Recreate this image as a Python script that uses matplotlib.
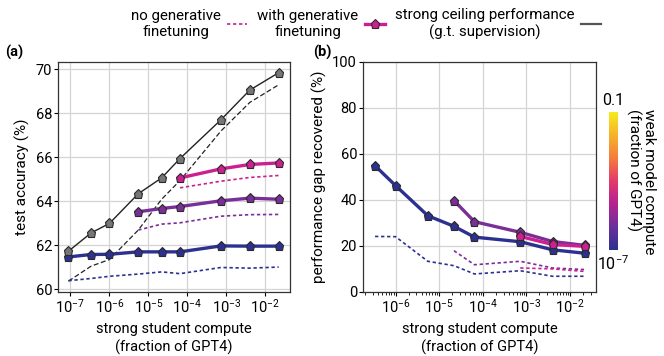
import numpy as np
import matplotlib
matplotlib.use('Agg')
from matplotlib import pyplot as plt
from matplotlib.lines import Line2D
from matplotlib.colors import LinearSegmentedColormap, LogNorm
from matplotlib.cm import ScalarMappable

plt.rcParams['font.family'] = ['Roboto', 'DejaVu Sans']
plt.rcParams['font.size'] = 10.5

# strong student compute (fraction of GPT4), log10
student_log = [-7.05, -6.47, -6.00, -5.26, -4.66, -4.19, -3.14, -2.40, -1.66]
student = [10 ** v for v in student_log]

# (a) test accuracy
ceiling_gen = [61.74, 62.57, 63.0, 64.35, 65.07, 65.95, 67.71, 69.06, 69.85]
ceiling_nogen = [60.38, 61.06, 61.36, 62.7, 64.1, 64.95, 67.2, 68.5, 69.3]

acc_gen_w1 = [61.48, 61.59, 61.60, 61.71, 61.71, 61.71, 61.98, 61.97, 61.97]
acc_nogen_w1 = [60.4, 60.5, 60.6, 60.7, 60.8, 60.72, 61.0, 60.97, 61.02]
acc_gen_w2 = [63.53, 63.68, 63.77, 64.03, 64.15, 64.1]
acc_nogen_w2 = [62.7, 62.97, 63.03, 63.33, 63.4, 63.41]
acc_gen_w3 = [65.07, 65.48, 65.68, 65.75]
acc_nogen_w3 = [64.62, 64.92, 65.09, 65.18]

# (b) performance gap recovered
pgr_gen_w1 = [54.8, 46.2, 33.1, 28.5, 23.8, 21.8, 18.3, 16.8]
pgr_nogen_w1 = [24.1, 24.0, 13.3, 11.4, 7.8, 9.2, 6.8, 6.8]
pgr_gen_w2 = [39.7, 30.5, 25.9, 21.9, 20.2]
pgr_nogen_w2 = [17.9, 11.8, 13.3, 10.4, 9.7]
pgr_gen_w3 = [24.1, 20.6, 19.8]
pgr_nogen_w3 = [10.4, 10.0, 8.9]

blue = '#2c3190'
purple = '#7a2e98'
magenta = '#cc2090'
gray = '#767676'
edge = '#2a2a2a'

fig = plt.figure(figsize=(6.64, 3.56), dpi=100)
ax1 = fig.add_axes([0.0878, 0.18, 0.3489, 0.6467])
ax2 = fig.add_axes([0.5471, 0.18, 0.35, 0.6467])

def solid(ax, x, y, c, lw=2.4):
    ax.plot(x, y, '-', color=c, lw=lw, marker='p', ms=6.5,
            mfc=c, mec=edge, mew=0.8, zorder=4)

def dashed(ax, x, y, c):
    ax.plot(x, y, color=c, lw=1.2, dashes=(2, 1.6), zorder=3)

# panel (a)
ax1.plot(student, ceiling_gen, '-', color='#222222', lw=1.0, marker='p',
         ms=6.5, mfc=gray, mec=edge, mew=0.8, zorder=5)
ax1.plot(student, ceiling_nogen, color='#222222', lw=0.9, dashes=(4, 2), zorder=3)
solid(ax1, student, acc_gen_w1, blue)
dashed(ax1, student, acc_nogen_w1, blue)
solid(ax1, student[3:], acc_gen_w2, purple)
dashed(ax1, student[3:], acc_nogen_w2, purple)
solid(ax1, student[5:], acc_gen_w3, magenta)
dashed(ax1, student[5:], acc_nogen_w3, magenta)

ax1.set_xscale('log')
ax1.set_xlim(10 ** -7.31, 10 ** -1.37)
ax1.set_ylim(59.89, 70.35)
ax1.set_yticks([60, 62, 64, 66, 68, 70])
ax1.set_xticks([1e-7, 1e-6, 1e-5, 1e-4, 1e-3, 1e-2])
ax1.set_ylabel('test accuracy (%)', fontsize=11)

# panel (b)
solid(ax2, student[1:], pgr_gen_w1, blue)
dashed(ax2, student[1:], pgr_nogen_w1, blue)
solid(ax2, student[4:], pgr_gen_w2, purple)
dashed(ax2, student[4:], pgr_nogen_w2, purple)
solid(ax2, student[6:], pgr_gen_w3, magenta)
dashed(ax2, student[6:], pgr_nogen_w3, magenta)

ax2.set_xscale('log')
ax2.set_xlim(10 ** -6.74, 10 ** -1.41)
ax2.set_ylim(0, 100)
ax2.set_yticks([0, 20, 40, 60, 80, 100])
ax2.set_xticks([1e-6, 1e-5, 1e-4, 1e-3, 1e-2])
ax2.set_ylabel('performance gap recovered (%)', fontsize=11)

for ax in (ax1, ax2):
    ax.grid(True, color='#d4d4d4', lw=0.9)
    ax.set_axisbelow(True)
    ax.set_xlabel('strong student compute\n(fraction of GPT4)', linespacing=1.35,
                  fontsize=10.5)
    ax.tick_params(axis='both', which='major', direction='out', length=3,
                   width=0.8, pad=1.5, labelsize=10.5)
    ax.tick_params(axis='x', which='minor', direction='out', length=2, width=0.6)
    for s in ax.spines.values():
        s.set_color('#333333')
        s.set_linewidth(0.9)

fig.text(0.008, 0.84, '(a)', fontweight='bold', fontsize=10.5)
fig.text(0.471, 0.84, '(b)', fontweight='bold', fontsize=10.5)

# colorbar
cmap = LinearSegmentedColormap.from_list(
    'weak', ['#2c3190', '#6a2f9b', '#b5228f', '#e23a6c', '#f47c3c',
             '#f7b22a', '#f3ec1a'])
cax = fig.add_axes([0.917, 0.298, 0.014, 0.388])
cb = fig.colorbar(ScalarMappable(norm=LogNorm(1e-7, 0.1), cmap=cmap), cax=cax)
cb.set_ticks([])
cb.ax.minorticks_off()
cb.outline.set_visible(False)
cax.text(0.5, 1.03, '0.1', transform=cax.transAxes, ha='center', va='bottom',
         fontsize=11.5)
cax.text(0.5, -0.03, r'10$^{\mathregular{-7}}$', transform=cax.transAxes,
         ha='center', va='top', fontsize=11.5)
fig.text(0.943, 0.49, 'weak model compute\n(fraction of GPT4)', rotation=270,
         ha='left', va='center', fontsize=11, linespacing=1.05)

# legend
handles = [
    Line2D([], [], color=magenta, lw=1.2, dashes=(2, 1.6)),
    Line2D([], [], color=magenta, lw=2.4, marker='p', ms=6.5, mfc=magenta,
           mec=edge, mew=0.8),
    Line2D([], [], color='#555555', lw=1.6),
]
labels = ['no generative\nfinetuning', 'with generative\nfinetuning',
          'strong ceiling performance\n(g.t. supervision)']
leg = fig.legend(handles, labels, loc='upper center', bbox_to_anchor=(0.551, 1.015),
                 ncol=3, frameon=False, markerfirst=False, handlelength=1.3,
                 columnspacing=0.7, handletextpad=0.45, fontsize=10.8,
                 numpoints=1)
for t in leg.get_texts():
    t.set_multialignment('center')

fig.savefig('out.png', dpi=100)
